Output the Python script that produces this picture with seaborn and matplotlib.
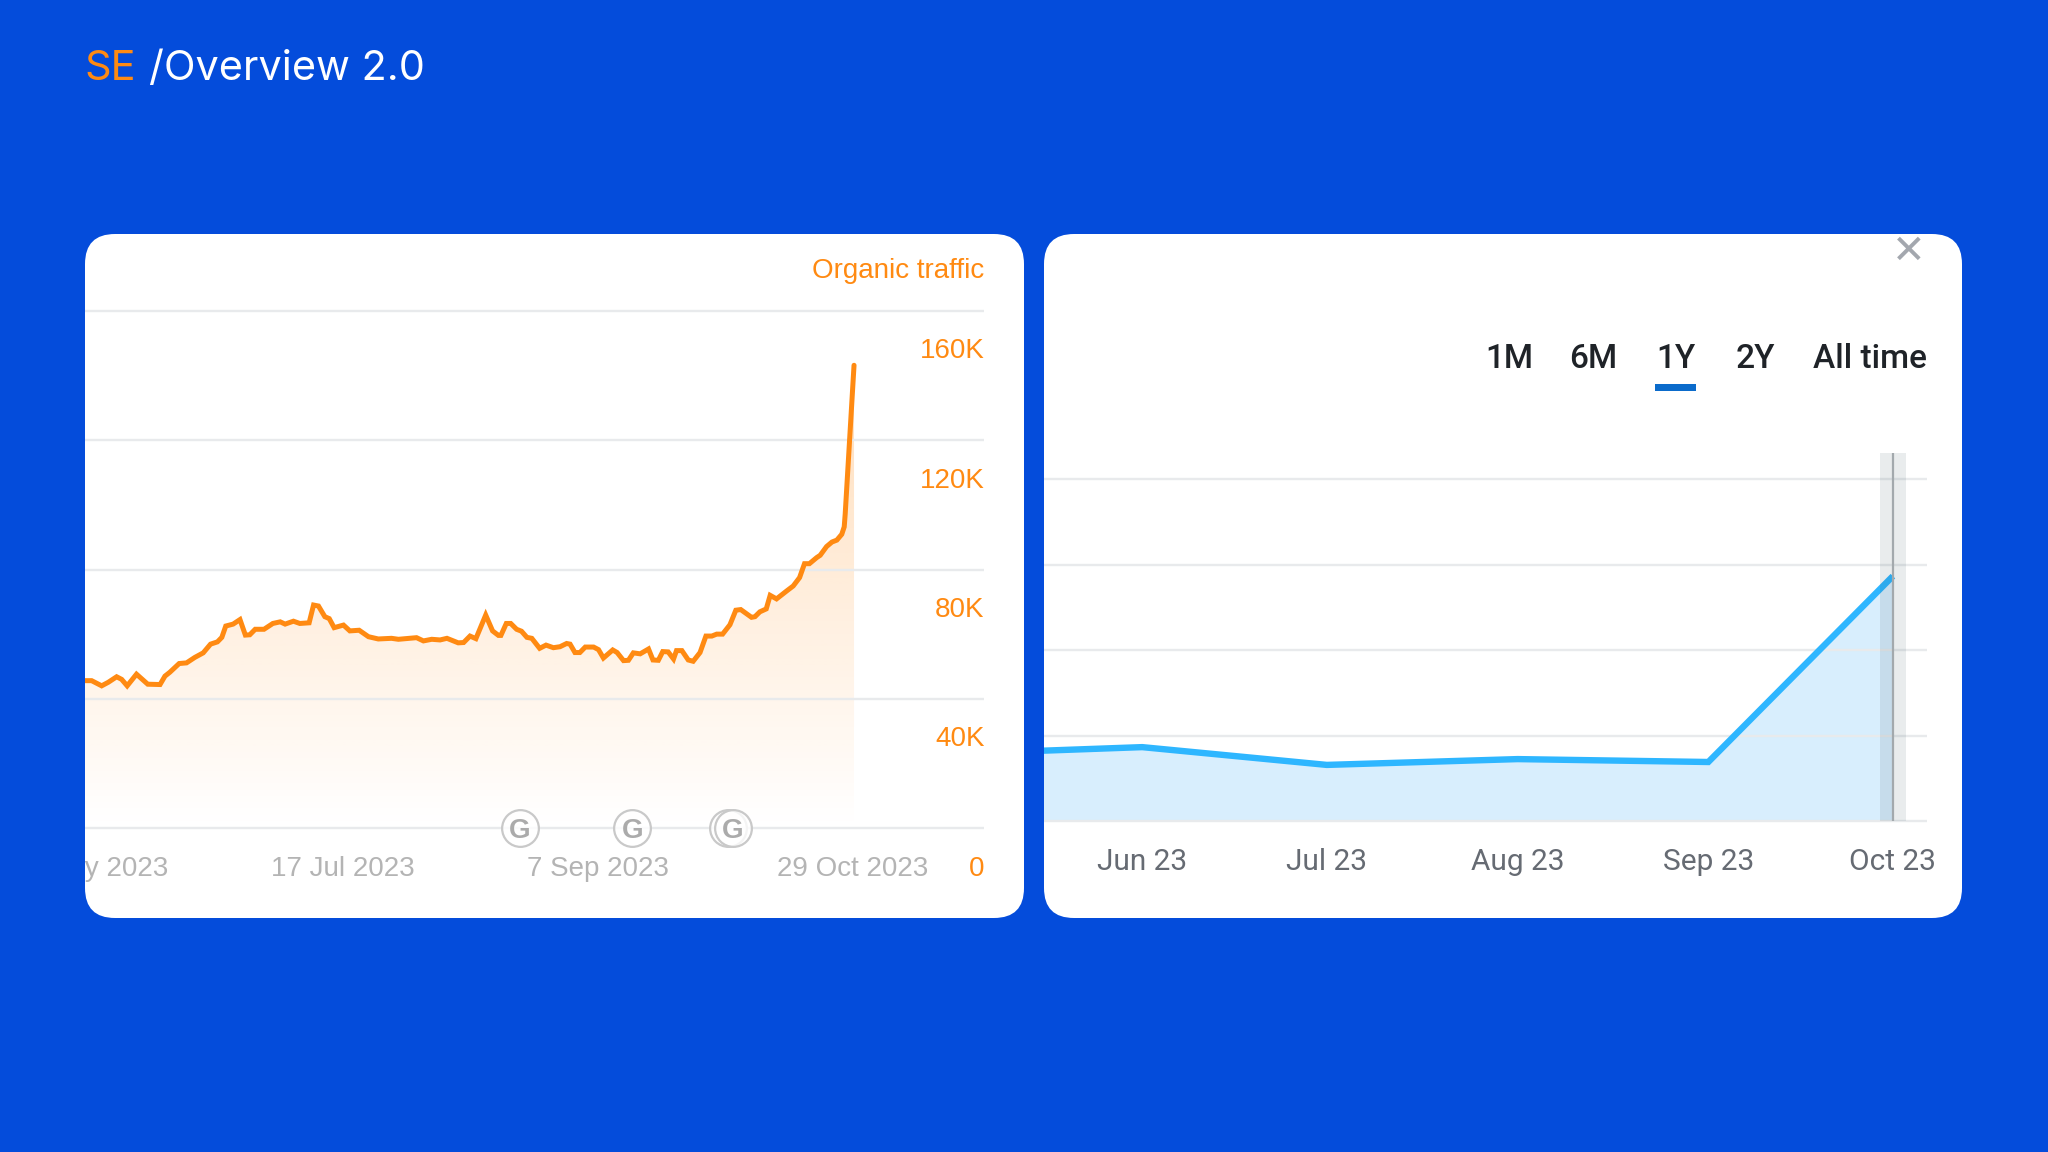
import numpy as np
import pandas as pd
import matplotlib
matplotlib.use("Agg")
import matplotlib.pyplot as plt
from matplotlib.patches import FancyBboxPatch, Rectangle
from matplotlib.transforms import IdentityTransform, ScaledTranslation, Bbox
import seaborn as sns

# ---------- data ----------
traffic_days = [-0.6, 0.75, 2.8, 4.15, 5.85, 6.87, 8.0, 9.9, 12.2, 14.7, 15.7, 16.7, 18.6, 20.1, 21.8, 23.5, 25.0, 26.4,
                27.3, 28.1, 29.6, 31.0, 32.1, 33.0, 34.1, 35.9, 37.7, 39.2, 40.2, 41.9, 43.2, 45.1, 46.0, 47.0, 48.3,
                49.2, 50.2, 52.1, 53.4, 55.3, 57.2, 59.2, 61.9, 63.3, 67.0, 68.4, 70.1, 71.8, 73.2, 75.5, 76.6, 77.9,
                79.1, 81.1, 82.5, 83.7, 84.2, 85.3, 86.2, 87.4, 88.4, 89.5, 90.5, 92.1, 93.4, 94.9, 96.25, 97.6, 98.3,
                99.3, 100.3, 101.4, 103.1, 104.1, 105.1, 107.0, 107.9, 109.2, 110.2, 111.2, 112.6, 114.3, 115.2, 116.3,
                117.2, 118.3, 119.4, 120.0, 121.1, 122.4, 123.4, 124.8, 126.0, 127.2, 128.2, 129.4, 130.9, 132.1, 133.1,
                135.3, 136.0, 137.0, 138.3, 139.1, 140.4, 142.5, 143.8, 145.1, 146.1, 147.1, 148.6, 149.3, 150.6, 151.7,
                152.7, 153.7, 154.2, 154.4, 156.2]
traffic_k = [45.6, 45.6, 44.0, 45.1, 46.8, 46.0, 44.0, 47.6, 44.5, 44.4, 47.0, 48.2, 50.9, 51.1, 52.8, 54.2, 56.9, 57.6,
             59.0, 62.5, 63.1, 64.5, 59.7, 59.8, 61.5, 61.5, 63.3, 63.8, 63.1, 64.0, 63.3, 63.5, 69.0, 68.7, 65.4,
             64.8, 62.0, 62.8, 61.0, 61.2, 59.2, 58.5, 58.7, 58.4, 58.9, 57.9, 58.4, 58.2, 58.7, 57.3, 57.4, 59.4,
             58.6, 65.9, 61.0, 59.6, 59.6, 63.3, 63.3, 61.5, 60.9, 59.0, 58.7, 55.6, 56.6, 55.8, 56.1, 57.1, 56.9,
             54.3, 54.3, 56.0, 56.0, 55.2, 52.6, 55.1, 54.3, 51.8, 51.9, 54.2, 53.9, 55.4, 52.0, 51.9,
             54.6, 54.5, 52.3, 54.9, 54.9, 52.0, 51.6, 54.3, 59.4, 59.4, 60.0, 60.0, 62.9, 67.4, 67.6,
             65.2, 65.4, 66.9, 67.8, 72.0, 70.9, 73.4, 74.9, 77.5, 81.8, 81.8, 83.7, 84.4, 87.1, 88.5,
             89.1, 90.9, 93.2, 97.2, 143.2]
traffic_y_ticks = [0, 40, 80, 120, 160]
traffic_y_labels = ["0", "40K", "80K", "120K", "160K"]
traffic_x_ticks = [0, 52, 104, 156]
traffic_x_labels = ["26 May 2023", "17 Jul 2023", "7 Sep 2023", "29 Oct 2023"]
update_days = [88.1, 111.0, 130.6, 131.5]

month_dates = ["2023-05-01", "2023-06-01", "2023-07-01", "2023-08-01", "2023-09-01", "2023-10-01"]
month_values = [19.6, 21.6, 16.4, 18.1, 17.25, 71.6]
month_labels = ["Jun 23", "Jul 23", "Aug 23", "Sep 23", "Oct 23"]
month_y_ticks = [0, 25, 50, 75, 100]
tabs = ["1M", "6M", "1Y", "2Y", "All time"]

# ---------- style ----------
W, H = 2048, 1152
BG = "#044CDB"
ORANGE = "#FF8A12"
GRID = "#E8EAEC"
sns.set_theme(style="white")
plt.rcParams["font.family"] = ["Liberation Sans", "DejaVu Sans"]

fig = plt.figure(figsize=(W / 100, H / 100), dpi=100, facecolor=BG)


def px_axes(x0, y0, x1, y1):
    return fig.add_axes([x0 / W, 1 - y1 / H, (x1 - x0) / W, (y1 - y0) / H], facecolor="none")


def card(x0, y0, x1, y1):
    fig.add_artist(FancyBboxPatch((x0, H - y1), x1 - x0, y1 - y0, boxstyle="round,pad=0,rounding_size=30",
                                  transform=IdentityTransform(), fc="white", ec="none", zorder=-1))


def ftext(x, y, s, **kw):
    kw.setdefault("va", "center")
    fig.text(x / W, 1 - y / H, s, **kw)


card(85, 234, 1024, 918)
card(1044, 234, 1962, 918)

# title
ftext(84, 69, "SE", color=ORANGE, fontsize=29.8, family="Inter")
ftext(149, 69, "/Overview 2.0", color="white", fontsize=29.8, family="Inter")

# ---------- left chart ----------
ax = px_axes(85, 311, 984, 828)
df_traffic = pd.DataFrame({"day": traffic_days, "traffic": traffic_k})
sns.lineplot(data=df_traffic, x="day", y="traffic", color=ORANGE, lw=3.6, ax=ax, zorder=5, estimator=None,
             solid_joinstyle="miter")
ax.set_xlim(-0.6, 182.7)
ax.set_ylim(0, 160)

poly = ax.fill_between(df_traffic["day"], df_traffic["traffic"], 0, color="none", lw=0)
rgba = np.zeros((256, 1, 4))
rgba[..., :3] = matplotlib.colors.to_rgb(ORANGE)
rgba[:, 0, 3] = np.linspace(0.29, 0.0, 256)
im = ax.imshow(rgba, extent=(-0.6, 156.2, 0, 143.2), aspect="auto", origin="upper", zorder=2,
               interpolation="bilinear")
im.set_clip_path(poly.get_paths()[0], transform=ax.transData)
ax.set_xlim(-0.6, 182.7)
ax.set_ylim(0, 160)

ax.set(xlabel=None, ylabel=None)
ax.set_xticks(traffic_x_ticks, traffic_x_labels)
ax.yaxis.tick_right()
ax.set_yticks(traffic_y_ticks, traffic_y_labels)
ax.tick_params(axis="x", length=0, pad=20, labelsize=20, labelcolor="#B4B4B4")
ax.tick_params(axis="y", length=0, pad=0.5, labelsize=20, labelcolor=ORANGE)
ax.grid(axis="y", color=GRID, lw=1.7, zorder=3)
ax.set_axisbelow(False)
for gl in ax.get_ygridlines():
    gl.set_clip_on(False)
    gl.set_solid_capstyle("butt")
for sp in ax.spines.values():
    sp.set_visible(False)
shift = ScaledTranslation(0, -37.5 / 100, fig.dpi_scale_trans)
for lab in ax.get_yticklabels():
    lab.set_ha("right")
    lab.set_transform(lab.get_transform() + shift)
for lab in ax.get_xticklabels():
    lab.set_clip_on(True)
    lab.set_clip_box(Bbox([[85, 0], [1024, H]]))

# Google update markers
for d in update_days:
    ax.scatter([d], [0], s=700, facecolor=(1, 1, 1, 0.8), edgecolor="#C9C9C9", linewidth=1.6, zorder=6, clip_on=False)
for d in update_days[:2] + update_days[3:]:
    ax.text(d, 0, "G", ha="center", va="center_baseline", fontsize=20, fontweight="bold", color="#ABABAB", zorder=7,
            clip_on=False)

ftext(984, 271, "Organic traffic", color=ORANGE, fontsize=20, ha="right")

# ---------- right chart ----------
ax2 = px_axes(1044, 479, 1927, 821)
df_months = pd.DataFrame({"month": pd.to_datetime(month_dates), "value": month_values})
ax2.fill_between(df_months["month"], df_months["value"], 0, color="#D8EEFD", lw=0, zorder=1)
sns.lineplot(data=df_months, x="month", y="value", color="#2EB6FF", lw=4.6, ax=ax2, zorder=4, estimator=None,
             solid_joinstyle="miter", solid_capstyle="butt")
start = pd.Timestamp("2023-06-01") - pd.Timedelta(days=15.96)
end = pd.Timestamp("2023-10-01") + pd.Timedelta(days=5.54)
ax2.set_xlim(start, end)
ax2.set_ylim(0, 100)
ax2.set(xlabel=None, ylabel=None)
ax2.set_xticks(df_months["month"][1:], month_labels)
ax2.set_yticks(month_y_ticks, [""] * len(month_y_ticks))
ax2.tick_params(axis="x", length=0, pad=19.5, labelsize=21.5, labelcolor="#666B73")
ax2.tick_params(axis="y", length=0)
for lab in ax2.get_xticklabels():
    lab.set_fontfamily("Roboto")
ax2.grid(axis="y", color=GRID, lw=1.7, zorder=2)
ax2.set_axisbelow(False)
for gl in ax2.get_ygridlines():
    gl.set_clip_on(False)
    gl.set_solid_capstyle("butt")
for sp in ax2.spines.values():
    sp.set_visible(False)

# highlight band on the last month
oct_date = pd.Timestamp("2023-10-01")
band = px_axes(1044, 453, 1927, 821)
band.set_xlim(start, end)
band.set_ylim(0, 1)
band.axis("off")
band.axvspan(oct_date - pd.Timedelta(days=2.05), oct_date + pd.Timedelta(days=2.1), color=(40 / 255, 70 / 255, 80 / 255),
             alpha=0.10, lw=0)
band.axvline(oct_date, color="#A3A9AD", lw=1.6)

# range tabs
tab_x = [1509, 1593, 1675.5, 1755]
for x, s in zip(tab_x, tabs[:4]):
    ftext(x, 358.5, s, ha="center", fontsize=24, family="Roboto", fontweight="medium", color="#1F2328")
ftext(1927, 358.5, tabs[4], ha="right", fontsize=24, family="Roboto", fontweight="medium", color="#1F2328")
fig.add_artist(Rectangle((1655, H - 391), 41, 7, transform=IdentityTransform(), fc="#0B6BCB", ec="none"))
ftext(1909, 252, "\u2715", ha="center", fontsize=29, fontweight="bold", color="#A3A7AE", family="DejaVu Sans")

fig.savefig("out.png", dpi=100, facecolor=BG)
